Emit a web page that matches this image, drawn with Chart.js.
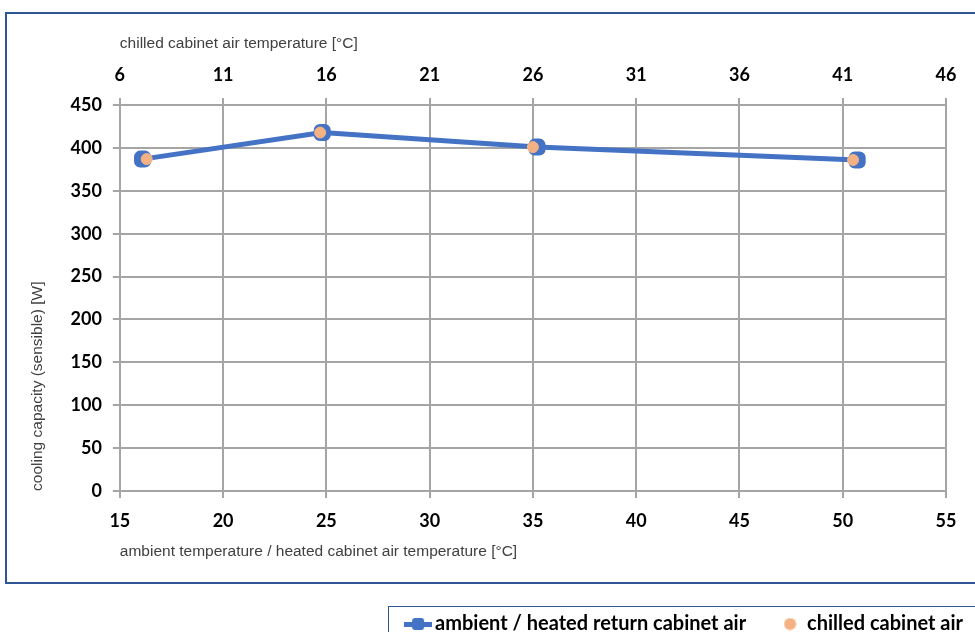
<!DOCTYPE html>
<html>
<head>
  <title>Cooling capacity</title>
  <style>
    body { margin: 0; background: #fff; }
    #wrap { position: relative; width: 975px; height: 632px; }
    .frame { position: absolute; border: 2px solid #2f5597; pointer-events: none; }
    #outer { left: 5px; top: 12px; width: 980px; height: 568px; }
    #legendBox { left: 388px; top: 606px; width: 600px; height: 40px; border-width: 1.5px; }
  </style>
</head>
<body>
  <div id="wrap">
    <canvas id="chart" width="975" height="632"></canvas>
    <div class="frame" id="outer"></div>
    <div class="frame" id="legendBox"></div>
  </div>

  <script src="https://cdn.jsdelivr.net/npm/chart.js"></script>
  <script>
    // ambient / heated return cabinet air (bottom axis)
    const ambientTemp = [16.1, 24.8, 35.2, 50.7];
    const ambientCapacity = [387, 418, 401, 386];
    // chilled cabinet air (top axis)
    const chilledTemp = [7.3, 15.7, 26.0, 41.5];
    const chilledCapacity = [387, 418, 401, 386];

    const seriesNames = ["ambient / heated return cabinet air", "chilled cabinet air"];
    const xTitle = "ambient temperature / heated cabinet air temperature [°C]";
    const x2Title = "chilled cabinet air temperature [°C]";
    const yTitle = "cooling capacity (sensible) [W]";

    const blue = "#4472c4";
    const orange = "#f4b183";
    const gridColor = "#a5a5a5";
    const tickFont = { family: "Lato, 'Open Sans', sans-serif", size: 18, weight: "bold" };
    const titleFont = { family: "'Liberation Sans Narrow', 'Liberation Sans', sans-serif", size: 15.5, lineHeight: 1 };

    const toPoints = (xs, ys) => xs.map((x, i) => ({ x: x, y: ys[i] }));

    function axisGrid() {
      return { color: gridColor, lineWidth: 2, tickLength: 7, tickColor: gridColor };
    }

    // small legend symbols: line with square marker, and a plain dot
    function lineIcon() {
      const c = document.createElement("canvas");
      c.width = 28; c.height = 14;
      const g = c.getContext("2d");
      g.fillStyle = blue;
      g.fillRect(0, 5, 28, 5);
      g.beginPath();
      g.roundRect(8, 1, 12, 12, 3);
      g.fill();
      return c;
    }
    function dotIcon() {
      const c = document.createElement("canvas");
      c.width = 13; c.height = 13;
      const g = c.getContext("2d");
      g.fillStyle = orange;
      g.beginPath();
      g.arc(6.5, 6.5, 6, 0, Math.PI * 2);
      g.fill();
      return c;
    }
    const legendIcons = [dotIcon(), lineIcon()];

    // the legend sits in its own box below the chart frame
    const legendShift = {
      id: "legendShift",
      afterLayout(chart) {
        const lg = chart.legend;
        lg.left += 54; lg.right += 54;
        lg.top += 14; lg.bottom += 14;
      }
    };

    new Chart(document.getElementById("chart"), {
      type: "line",
      data: {
        datasets: [
          {
            label: seriesNames[1],
            data: toPoints(chilledTemp, chilledCapacity),
            xAxisID: "x2",
            showLine: false,
            pointStyle: "circle",
            pointRadius: 5.5,
            pointBackgroundColor: orange,
            pointBorderColor: orange,
            backgroundColor: orange,
            borderColor: orange
          },
          {
            label: seriesNames[0],
            data: toPoints(ambientTemp, ambientCapacity),
            xAxisID: "x",
            borderColor: blue,
            backgroundColor: blue,
            borderWidth: 5,
            pointStyle: "rectRounded",
            pointRadius: 7,
            pointBackgroundColor: blue,
            pointBorderColor: blue
          }
        ]
      },
      options: {
        responsive: false,
        animation: false,
        layout: { padding: { left: 30, right: 29, top: 36, bottom: 2 } },
        scales: {
          x: {
            type: "linear",
            position: "bottom",
            min: 15, max: 55,
            grid: axisGrid(),
            border: { color: gridColor, width: 2 },
            ticks: { stepSize: 5, color: "#000", font: tickFont, padding: 12 },
            title: { display: true, text: xTitle, align: "start", color: "#404040", font: titleFont, padding: { top: 0, bottom: 4 } }
          },
          x2: {
            type: "linear",
            position: "top",
            min: 6, max: 46,
            grid: Object.assign(axisGrid(), { drawOnChartArea: false }),
            border: { color: gridColor, width: 2 },
            ticks: { stepSize: 5, color: "#000", font: tickFont, padding: 12 },
            title: { display: true, text: x2Title, align: "start", color: "#404040", font: titleFont, padding: { top: 0, bottom: 1 } }
          },
          y: {
            min: 0, max: 450,
            grid: axisGrid(),
            border: { color: gridColor, width: 2 },
            ticks: { stepSize: 50, color: "#000", font: tickFont, padding: 11 },
            title: { display: true, text: yTitle, align: "start", color: "#404040", font: titleFont, padding: { top: 0, bottom: 14 } }
          }
        },
        plugins: {
          tooltip: { enabled: false },
          legend: {
            position: "bottom",
            align: "end",
            labels: {
              usePointStyle: true,
              pointStyleWidth: 14,
              boxHeight: 14,
              color: "#000",
              font: { family: "Lato, 'Open Sans', sans-serif", size: 20, weight: "bold" },
              padding: 37,
              sort: (a, b) => b.datasetIndex - a.datasetIndex,
              generateLabels(chart) {
                const items = Chart.defaults.plugins.legend.labels.generateLabels(chart);
                items.forEach(it => { it.pointStyle = legendIcons[it.datasetIndex]; });
                return items;
              }
            }
          }
        }
      },
      plugins: [legendShift]
    });
  </script>
</body>
</html>
